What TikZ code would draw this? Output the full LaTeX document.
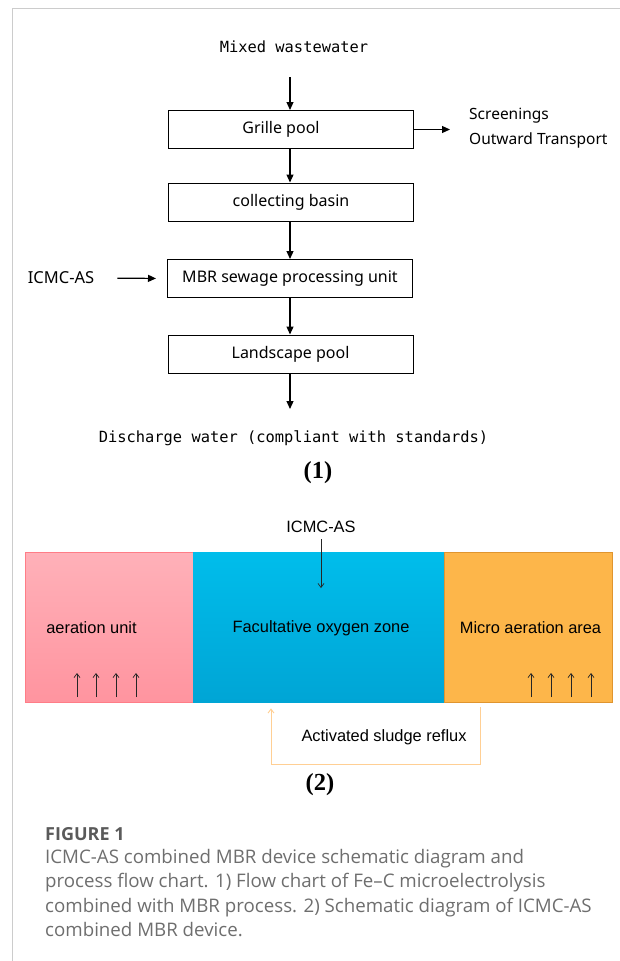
\documentclass[tikz,border=0pt]{standalone}
\usepackage{fontspec}
\setmainfont{Liberation Serif}
\newfontfamily\boxfont{Noto Sans}
\newfontfamily\flowmono{DejaVu Sans Mono}
\newfontfamily\zonefont{Liberation Sans}
\newfontfamily\capfont{Open Sans}
\usepackage{tikz}
\usetikzlibrary{arrows.meta,positioning,calc}
\definecolor{framegray}{RGB}{204,204,204}
\definecolor{pinktop}{RGB}{255,177,185}
\definecolor{pinkbot}{RGB}{255,148,159}
\definecolor{pinkline}{RGB}{255,125,135}
\definecolor{bluetop}{RGB}{0,189,235}
\definecolor{bluebot}{RGB}{0,165,213}
\definecolor{orangefill}{RGB}{253,182,74}
\definecolor{orangeline}{RGB}{224,149,47}
\definecolor{refluxline}{RGB}{255,207,148}
\definecolor{captext}{RGB}{110,110,110}
\definecolor{capbold}{RGB}{90,90,90}

\begin{document}
\begin{tikzpicture}[x=1pt, y=-1pt, >=Stealth,
      stepbox/.style={draw, line width=1pt, minimum width=245pt,
                      minimum height=38pt, font=\boxfont\fontsize{16}{18}\selectfont},
      flow/.style={->, line width=1.2pt, >={Triangle[length=8pt,width=7pt]}},
      mono/.style={inner sep=0pt, font=\flowmono\fontsize{15.4}{18}\selectfont},
      zone/.style={minimum height=150pt, inner sep=0pt, line width=0.8pt},
      zonetext/.style={inner sep=0pt, font=\zonefont\fontsize{16.4}{19}\selectfont},
      thinarr/.style={->, line width=0.7pt, black!85, >={Straight Barb[length=4pt,width=6pt]}},
      tag/.style={inner sep=0pt, font=\bfseries\fontsize{24.5}{26}\selectfont}
    ]
    \useasboundingbox (0,0) rectangle (620,961);
    % page frame
    \draw[framegray, line width=1pt] (620,8) -- (12,8) -- (12,961);

    % (1) flow chart
    \node[mono] (mixed) at (294,47) {Mixed wastewater};
    \coordinate (mixin) at (290,77);
    \node[stepbox] (grille) at (291,129.5) {\hspace*{-20pt}Grille pool};
    \node[stepbox] (collect) at (291,202) {collecting basin};
    \node[stepbox] (mbr) at (290,278.5) {MBR sewage processing unit};
    \node[stepbox] (land) at (290.5,354) {Landscape pool};
    \coordinate (outlet) at (290,409);
    \node[mono] (discharge) at (293.5,438) {Discharge water (compliant with standards)};

    \draw[flow] (mixin) -- (grille.north -| mixin);
    \draw[flow] (grille.south -| mixin) -- (collect.north -| mixin);
    \draw[flow] (collect.south -| mixin) -- (mbr.north -| mixin);
    \draw[flow] (mbr.south -| mixin) -- (land.north -| mixin);
    \draw[flow] (land.south -| mixin) -- (outlet);

    \coordinate (screen) at (450,129.5);
    \draw[flow] (grille.east) -- (screen);
    \node[anchor=west, align=left, inner sep=0pt,
          font=\boxfont\fontsize{15.5}{25}\selectfont] (waste) at (469,128)
          {Screenings\\Outward Transport};

    \node[inner sep=0pt, font=\boxfont\fontsize{16.5}{18}\selectfont] (icmcA) at (61,278) {ICMC-AS};
    \draw[flow, shorten <=23pt, shorten >=11pt] (icmcA.east) -- (mbr.west);

    \node[tag] (tagA) at (318,473) {(1)};

    % (2) device
    \node[zone, draw=pinkline, top color=pinktop, bottom color=pinkbot,
          minimum width=168pt] (aer) at (109,627) {};
    \node[zone, top color=bluetop, bottom color=bluebot,
          minimum width=251pt] (fac) at (318.5,627) {};
    \node[zone, draw=orangeline, fill=orangefill,
          minimum width=168pt] (micro) at (528,627) {};

    \node[zonetext] (aerlab) at (91.5,628) {aeration unit};
    \node[zonetext] (faclab) at (321,628) {Facultative oxygen zone};
    \node[zonetext] (microlab) at (530.5,628) {Micro aeration area};

    \foreach \x in {77,96,116,136,531,551,571,591}{
      \draw[thinarr] (\x,697) -- (\x,673);
    }

    \node[zonetext] (icmcB) at (321,527) {ICMC-AS};
    \coordinate (dose) at (321,588);
    \draw[thinarr, shorten <=6pt] (icmcB.south) -- (dose);

    \draw[thinarr, refluxline, line width=0.9pt]
      ([xshift=-48pt,yshift=-5pt]micro.south) -- ++(0,57)
      -| ([xshift=-47.5pt,yshift=-6pt]fac.south);
    \node[zonetext] (refluxlab) at (384,737) {Activated sludge reflux};

    \node[tag] (tagB) at (320,785) {(2)};

    % caption
    \node[anchor=west, inner sep=0pt, text=capbold,
          font=\capfont\bfseries\fontsize{18}{20}\selectfont] (figlab) at (45,834) {FIGURE 1};
    \node[anchor=north west, align=left, inner sep=0pt, text=captext,
          font=\capfont\fontsize{18.7}{24.5}\selectfont] (caption) at (45,849)
          {ICMC-AS combined MBR device schematic diagram and\\
           process flow chart. 1) Flow chart of Fe–C microelectrolysis\\
           combined with MBR process. 2) Schematic diagram of ICMC-AS\\
           combined MBR device.};
\end{tikzpicture}
\end{document}
